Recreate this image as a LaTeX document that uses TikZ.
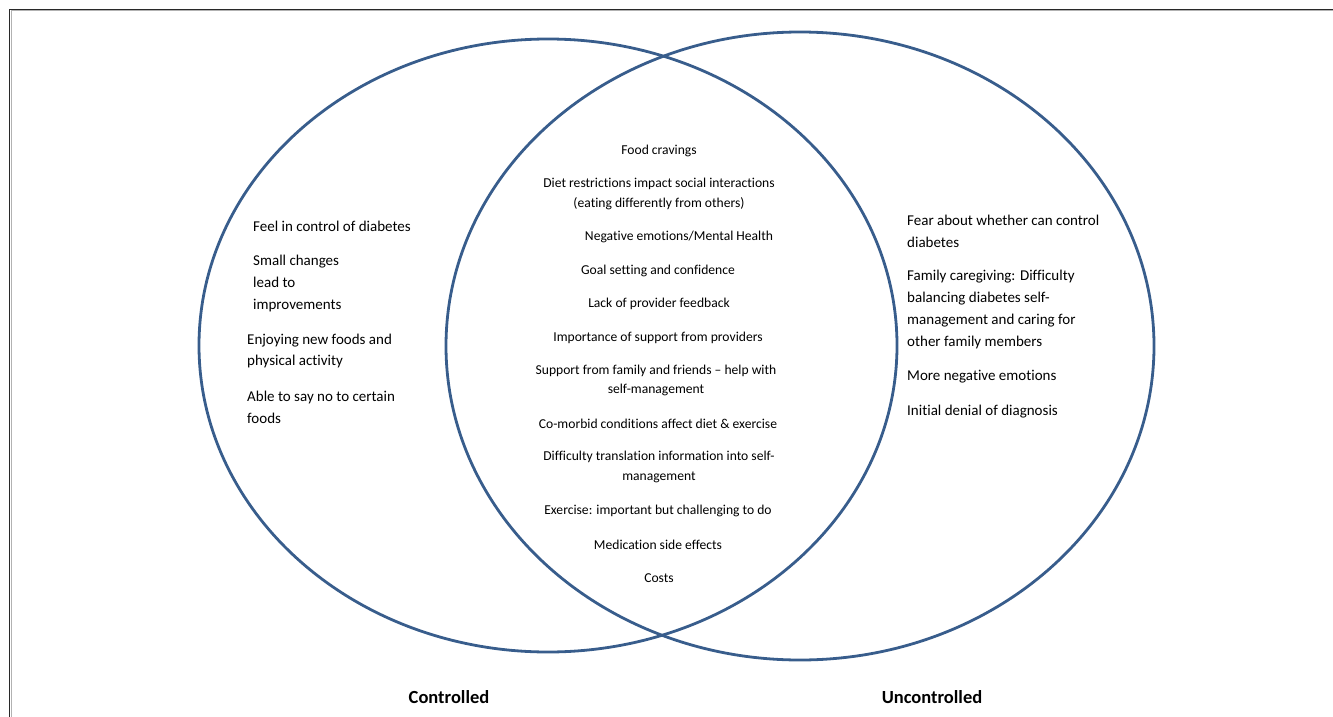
\documentclass[tikz,border=0pt]{standalone}
\usepackage{fontspec}
\setmainfont[Ligatures={TeX,NoCommon}]{Carlito}
\definecolor{vennblue}{RGB}{56,93,140}
\definecolor{framegray}{RGB}{40,40,40}
\tikzset{
  vennline/.style={draw=vennblue, line width=2.8pt},
  sidetxt/.style={anchor=west, inner sep=0pt, align=left, font=\fontsize{15}{21.7}\selectfont},
  midtxt/.style={anchor=center, inner sep=0pt, align=center, font=\fontsize{13.6}{19.8}\selectfont},
  labeltxt/.style={anchor=center, inner sep=0pt, font=\fontsize{18.5}{22}\selectfont\bfseries}
}
\begin{document}
\begin{tikzpicture}[x=1pt,y=-1pt]
\useasboundingbox (0,0) rectangle (1333,717);
% frame (cropped)
\draw[gray!60, line width=1pt] (11,717) -- (11,11) -- (1333,11);
\draw[framegray, line width=1.4pt] (9.5,717) -- (9.5,9.5) -- (1333,9.5);
% circles
\draw[vennline] (548,345.5) ellipse [x radius=349pt, y radius=306.5pt];
\draw[vennline] (800,346) ellipse [x radius=354pt, y radius=314pt];
% left column
\node[sidetxt] (l1) at (253,226) {Feel in control of diabetes};
\node[sidetxt] (l2) at (253,283.5) {Small changes\\lead to\\improvements};
\node[sidetxt] (l3) at (247,351) {Enjoying new foods and\\physical activity};
\node[sidetxt] (l4) at (247,407) {Able to say no to certain\\foods};
% right column
\node[sidetxt] (r1) at (907,231) {Fear about whether can control\\diabetes};
\node[sidetxt] (r2) at (907,309.5) {Family caregiving: Difficulty\\balancing diabetes self-\\management and caring for\\other family members};
\node[sidetxt] (r3) at (907,377) {More negative emotions};
\node[sidetxt] (r4) at (907,412) {Initial denial of diagnosis};
% center
\node[midtxt] (c1) at (659,151) {Food cravings};
\node[midtxt] (c2) at (659,194) {Diet restrictions impact social interactions\\(eating differently from others)};
\node[midtxt] (c3) at (679,237) {Negative emotions/Mental Health};
\node[midtxt] (c4) at (658,271) {Goal setting and confidence};
\node[midtxt] (c5) at (659,304) {Lack of provider feedback};
\node[midtxt] (c6) at (658,338) {Importance of support from providers};
\node[midtxt] (c7) at (656,380.5) {Support from family and friends – help with\\self-management};
\node[midtxt] (c8) at (658,424) {Co-morbid conditions affect diet \& exercise};
\node[midtxt] (c9) at (659,467) {Difficulty translation information into self-\\management};
\node[midtxt] (c10) at (658,511) {Exercise: important but challenging to do};
\node[midtxt] (c11) at (658,545) {Medication side effects};
\node[midtxt] (c12) at (659,578) {Costs};
% labels
\node[labeltxt] (ctrl) at (449,697) {Controlled};
\node[labeltxt] (unctrl) at (932,697) {Uncontrolled};
\end{tikzpicture}
\end{document}
